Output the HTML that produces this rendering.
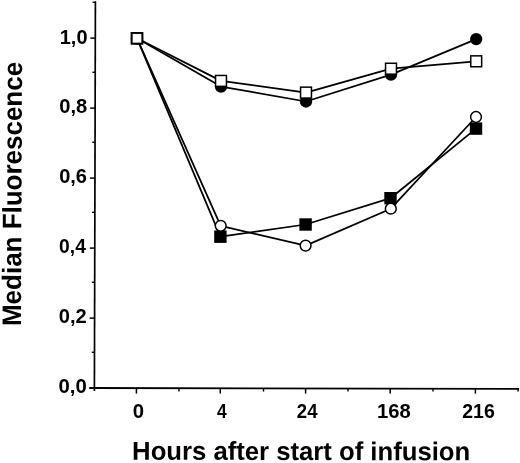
<!DOCTYPE html>
<html><head><meta charset="utf-8"><title>Median Fluorescence</title>
<style>
html,body{margin:0;padding:0;background:#fff;}
svg{display:block}
text{font-family:"Liberation Sans",Arial,Helvetica,sans-serif;font-weight:bold;fill:#000}
.tk{font-size:19.3px}
.ti{font-size:25.7px}
</style></head><body>
<svg width="520" height="463" viewBox="0 0 520 463">
<rect width="520" height="463" fill="#fff"/>
<line x1="95.4" y1="1.2" x2="94.4" y2="391" stroke="#000" stroke-width="1.7"/>
<line x1="89.2" y1="388.0" x2="519.1" y2="388.9" stroke="#000" stroke-width="1.9"/>
<line x1="90.31" y1="38.1" x2="95.31" y2="38.1" stroke="#000" stroke-width="1.5"/>
<line x1="90.13" y1="108.1" x2="95.13" y2="108.1" stroke="#000" stroke-width="1.5"/>
<line x1="89.95" y1="178.1" x2="94.95" y2="178.1" stroke="#000" stroke-width="1.5"/>
<line x1="89.77" y1="248.1" x2="94.77" y2="248.1" stroke="#000" stroke-width="1.5"/>
<line x1="89.59" y1="318.1" x2="94.59" y2="318.1" stroke="#000" stroke-width="1.5"/>
<line x1="92.60" y1="2.3" x2="95.40" y2="2.3" stroke="#000" stroke-width="1.4"/>
<line x1="92.42" y1="72.3" x2="95.22" y2="72.3" stroke="#000" stroke-width="1.4"/>
<line x1="92.24" y1="142.3" x2="95.04" y2="142.3" stroke="#000" stroke-width="1.4"/>
<line x1="92.06" y1="212.3" x2="94.86" y2="212.3" stroke="#000" stroke-width="1.4"/>
<line x1="91.88" y1="282.3" x2="94.68" y2="282.3" stroke="#000" stroke-width="1.4"/>
<line x1="91.70" y1="352.3" x2="94.50" y2="352.3" stroke="#000" stroke-width="1.4"/>
<line x1="136.4" y1="388.10" x2="136.4" y2="393.6" stroke="#000" stroke-width="1.5"/>
<line x1="220.3" y1="388.27" x2="220.3" y2="393.6" stroke="#000" stroke-width="1.5"/>
<line x1="305.6" y1="388.45" x2="305.6" y2="393.6" stroke="#000" stroke-width="1.5"/>
<line x1="390.2" y1="388.63" x2="390.2" y2="393.6" stroke="#000" stroke-width="1.5"/>
<line x1="475.4" y1="388.81" x2="475.4" y2="393.6" stroke="#000" stroke-width="1.5"/>
<line x1="179" y1="388.19" x2="179" y2="391.6" stroke="#000" stroke-width="1.4"/>
<line x1="263.5" y1="388.36" x2="263.5" y2="391.6" stroke="#000" stroke-width="1.4"/>
<line x1="348" y1="388.54" x2="348" y2="391.6" stroke="#000" stroke-width="1.4"/>
<line x1="433" y1="388.72" x2="433" y2="391.6" stroke="#000" stroke-width="1.4"/>
<line x1="518.1" y1="388.90" x2="518.1" y2="391.6" stroke="#000" stroke-width="1.4"/>
<polyline points="137,38.3 220.4,236.7 305.6,224.5 390.5,198.2 476,128.6" fill="none" stroke="#000" stroke-width="1.75" stroke-linejoin="round"/>
<polyline points="137,38.3 221,86.6 306,101.5 391,74.6 476.2,39.1" fill="none" stroke="#000" stroke-width="1.75" stroke-linejoin="round"/>
<polyline points="137,38.3 220.7,225.8 305.6,245.6 390.8,208.7 476,117.0" fill="none" stroke="#000" stroke-width="1.75" stroke-linejoin="round"/>
<polyline points="137,38.3 221,80.9 306,92.6 391,68.7 476.2,61.3" fill="none" stroke="#000" stroke-width="1.75" stroke-linejoin="round"/>
<rect x="130.80" y="32.10" width="12.4" height="12.4" fill="#000"/>
<rect x="214.20" y="230.50" width="12.4" height="12.4" fill="#000"/>
<rect x="299.40" y="218.30" width="12.4" height="12.4" fill="#000"/>
<rect x="384.30" y="192.00" width="12.4" height="12.4" fill="#000"/>
<rect x="469.80" y="122.40" width="12.4" height="12.4" fill="#000"/>
<circle cx="137" cy="38.3" r="6.15" fill="#000"/>
<circle cx="221" cy="86.6" r="6.15" fill="#000"/>
<circle cx="306" cy="101.5" r="6.15" fill="#000"/>
<circle cx="391" cy="74.6" r="6.15" fill="#000"/>
<circle cx="476.2" cy="39.1" r="6.15" fill="#000"/>
<circle cx="137" cy="38.3" r="5.4" fill="#fff" stroke="#000" stroke-width="1.5"/>
<circle cx="220.7" cy="225.8" r="5.4" fill="#fff" stroke="#000" stroke-width="1.5"/>
<circle cx="305.6" cy="245.6" r="5.4" fill="#fff" stroke="#000" stroke-width="1.5"/>
<circle cx="390.8" cy="208.7" r="5.4" fill="#fff" stroke="#000" stroke-width="1.5"/>
<circle cx="476" cy="117.0" r="5.4" fill="#fff" stroke="#000" stroke-width="1.5"/>
<rect x="131.70" y="33.00" width="10.60" height="10.60" fill="#fff" stroke="#000" stroke-width="1.9"/>
<rect x="215.55" y="75.45" width="10.90" height="10.90" fill="#fff" stroke="#000" stroke-width="1.5"/>
<rect x="300.55" y="87.15" width="10.90" height="10.90" fill="#fff" stroke="#000" stroke-width="1.5"/>
<rect x="385.55" y="63.25" width="10.90" height="10.90" fill="#fff" stroke="#000" stroke-width="1.5"/>
<rect x="470.75" y="55.85" width="10.90" height="10.90" fill="#fff" stroke="#000" stroke-width="1.5"/>
<text class="tk" transform="translate(132.66,417.82) scale(1.0521,1.0495)">0</text>
<text class="tk" transform="translate(217.12,417.75) scale(0.9060,1.0415)">4</text>
<text class="tk" transform="translate(296.85,417.95) scale(0.9639,1.0370)">24</text>
<text class="tk" transform="translate(376.94,417.82) scale(1.0469,1.0275)">168</text>
<text class="tk" transform="translate(462.22,417.82) scale(1.0105,1.0275)">216</text>
<text class="tk" transform="translate(59.76,43.75) scale(1.0343,1.0182)">1,0</text>
<text class="tk" transform="translate(59.27,113.40) scale(1.0431,1.0667)">0,8</text>
<text class="tk" transform="translate(59.17,183.40) scale(1.0365,1.0667)">0,6</text>
<text class="tk" transform="translate(59.10,253.40) scale(1.0000,1.0667)">0,4</text>
<text class="tk" transform="translate(58.77,323.40) scale(1.0416,1.0667)">0,2</text>
<text class="tk" transform="translate(58.46,393.40) scale(1.0535,1.0667)">0,0</text>
<text class="ti" transform="translate(132.10,459.65) rotate(0.12) scale(0.9998,1.0066)">Hours after start of infusion</text>
<text class="ti" transform="translate(20.94,326.02) rotate(-89.76) scale(1.0111,1.0437)">Median Fluorescence</text>
</svg>
</body></html>
